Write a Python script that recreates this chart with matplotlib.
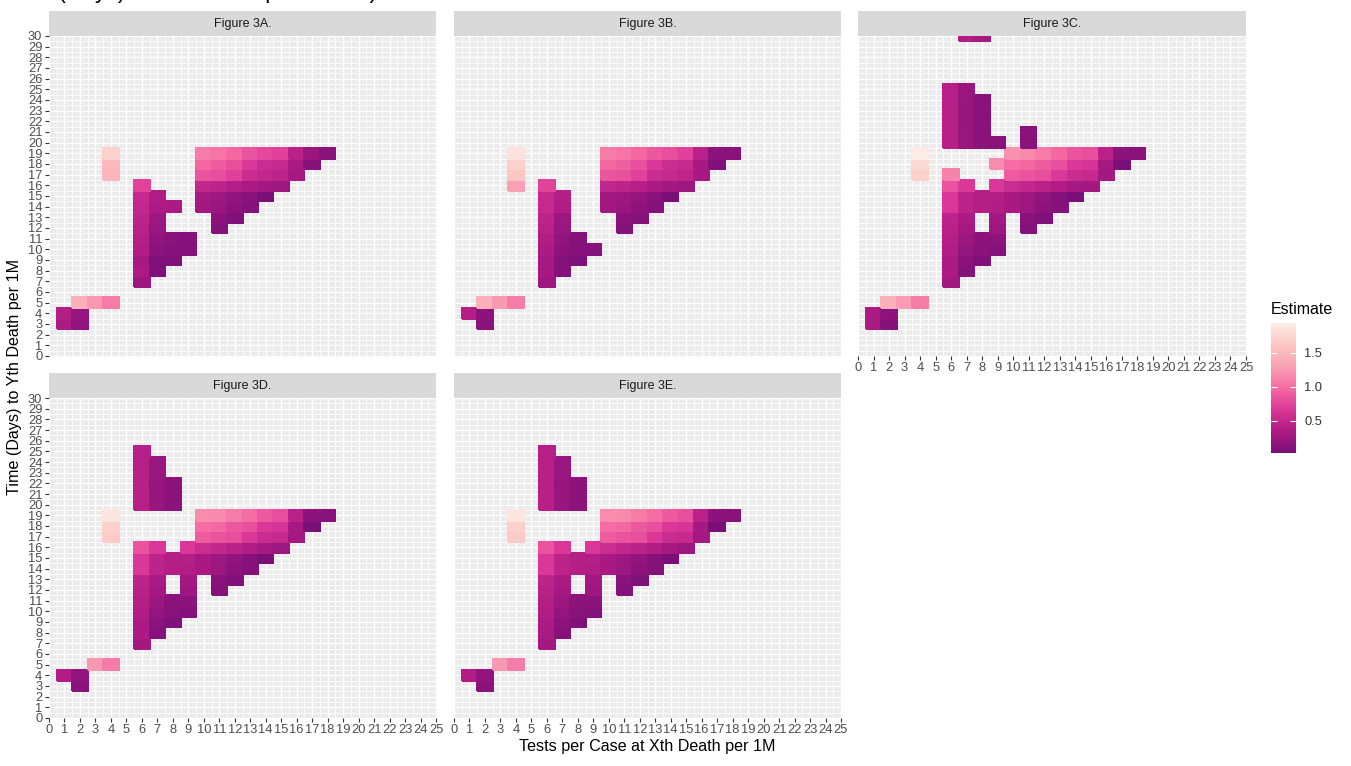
import numpy as np
import matplotlib
matplotlib.use('Agg')
import matplotlib.pyplot as plt
from matplotlib.colors import LinearSegmentedColormap, Normalize

plt.rcParams['font.family'] = ['Liberation Sans', 'DejaVu Sans']

W, H = 1351, 766

x_ticks = list(range(0, 26))
y_ticks = list(range(0, 31))

# each panel: y -> (first x, estimates from left to right, None = no tile)
fig3a = {
    19: (4, [1.71, None, None, None, None, None, 1.09, 1.04, 0.96, 0.83, 0.76, 0.72, 0.42, 0.22, 0.12]),
    18: (4, [1.51, None, None, None, None, None, 0.96, 0.89, 0.81, 0.65, 0.54, 0.50, 0.33, 0.09]),
    17: (4, [1.48, None, None, None, None, None, 0.84, 0.81, 0.71, 0.54, 0.48, 0.44, 0.30]),
    16: (6, [0.73, None, None, None, 0.48, 0.44, 0.38, 0.34, 0.28, 0.24]),
    15: (6, [0.50, 0.37, None, None, 0.30, 0.25, 0.17, 0.12, 0.03]),
    14: (6, [0.48, 0.35, 0.35, None, 0.27, 0.22, 0.14, 0.09]),
    13: (6, [0.44, 0.25, None, None, None, 0.14, 0.07]),
    12: (6, [0.42, 0.22, None, None, None, 0.09]),
    11: (6, [0.39, 0.17, 0.12, 0.09]),
    10: (6, [0.37, 0.14, 0.09, 0.09]),
    9: (6, [0.30, 0.07, 0.07]),
    8: (6, [0.35, 0.07]),
    7: (6, [0.24]),
    5: (2, [1.44, 1.25, 1.09]),
    4: (1, [0.39, 0.19]),
    3: (1, [0.35, 0.16]),
}

fig3b = {
    19: (4, [1.85, None, None, None, None, None, 1.09, 1.04, 0.96, 0.86, 0.80, 0.72, 0.42, 0.14, 0.12]),
    18: (4, [1.71, None, None, None, None, None, 0.96, 0.90, 0.81, 0.65, 0.54, 0.51, 0.32, 0.07]),
    17: (4, [1.63, None, None, None, None, None, 0.85, 0.82, 0.72, 0.54, 0.50, 0.46, 0.32]),
    16: (4, [1.30, None, 0.73, None, None, None, 0.48, 0.44, 0.40, 0.34, 0.28, 0.24]),
    15: (6, [0.50, 0.39, None, None, 0.28, 0.25, 0.19, 0.12, 0.03]),
    14: (6, [0.51, 0.37, None, None, 0.27, 0.22, 0.15, 0.09]),
    13: (6, [0.44, 0.25, None, None, None, 0.14, 0.09]),
    12: (6, [0.42, 0.22, None, None, None, 0.09]),
    11: (6, [0.37, 0.17, 0.09]),
    10: (6, [0.35, 0.14, 0.09, 0.09]),
    9: (6, [0.30, 0.09, 0.05]),
    8: (6, [0.32, 0.09]),
    7: (6, [0.25]),
    5: (2, [1.44, 1.26, 1.09]),
    4: (1, [0.39, 0.14]),
    3: (2, [0.12]),
}

fig3c = {
    30: (7, [0.37, 0.30]),
    25: (6, [0.40, 0.22]),
    24: (6, [0.40, 0.22, 0.12]),
    23: (6, [0.41, 0.21, 0.12]),
    22: (6, [0.41, 0.21, 0.12]),
    21: (6, [0.41, 0.22, 0.12, None, None, 0.12]),
    20: (6, [0.41, 0.22, 0.13, 0.12, None, 0.12]),
    19: (4, [1.94, None, None, None, None, None, 1.21, 1.17, 1.09, 0.96, 0.83, 0.80, 0.42, 0.14, 0.12]),
    18: (4, [1.78, None, None, None, None, 1.18, 1.00, 0.97, 0.89, 0.81, 0.65, 0.62, 0.30, 0.02]),
    17: (4, [1.71, None, 1.12, None, None, None, 0.89, 0.83, 0.80, 0.65, 0.54, 0.51, 0.28]),
    16: (6, [0.83, 0.65, None, 0.65, 0.54, 0.48, 0.43, 0.37, 0.30, 0.28]),
    15: (6, [0.65, 0.44, 0.39, 0.39, 0.32, 0.24, 0.17, 0.09, 0.03]),
    14: (6, [0.65, 0.44, 0.39, 0.37, 0.32, 0.24, 0.14, 0.09]),
    13: (6, [0.44, 0.34, None, 0.28, None, 0.12, 0.07]),
    12: (6, [0.42, 0.30, None, 0.25, None, 0.09]),
    11: (6, [0.39, 0.24, 0.14, 0.14]),
    10: (6, [0.37, 0.19, 0.12, 0.09]),
    9: (6, [0.34, 0.14, 0.07]),
    8: (6, [0.34, 0.09]),
    7: (6, [0.28]),
    5: (2, [1.44, 1.27, 1.09]),
    4: (1, [0.34, 0.14]),
    3: (1, [0.34, 0.09]),
}

fig3d = {
    25: (6, [0.40]),
    24: (6, [0.40, 0.22]),
    23: (6, [0.41, 0.22]),
    22: (6, [0.41, 0.21, 0.14]),
    21: (6, [0.41, 0.21, 0.14]),
    20: (6, [0.41, 0.22, 0.14]),
    19: (4, [1.88, None, None, None, None, None, 1.18, 1.17, 1.09, 1.00, 0.88, 0.81, 0.42, 0.14, 0.12]),
    18: (4, [1.71, None, None, None, None, None, 1.00, 0.97, 0.86, 0.81, 0.65, 0.62, 0.30, 0.03]),
    17: (4, [1.66, None, None, None, None, None, 0.89, 0.83, 0.80, 0.65, 0.54, 0.51, 0.28]),
    16: (6, [0.83, 0.65, None, 0.65, 0.54, 0.48, 0.43, 0.37, 0.30, 0.24]),
    15: (6, [0.65, 0.44, 0.39, 0.39, 0.32, 0.24, 0.17, 0.09, 0.03]),
    14: (6, [0.65, 0.44, 0.39, 0.37, 0.32, 0.24, 0.14, 0.09]),
    13: (6, [0.44, 0.34, None, 0.28, None, 0.12, 0.07]),
    12: (6, [0.42, 0.30, None, 0.25, None, 0.09]),
    11: (6, [0.39, 0.24, 0.14, 0.14]),
    10: (6, [0.37, 0.19, 0.12, 0.09]),
    9: (6, [0.34, 0.14, 0.07]),
    8: (6, [0.34, 0.09]),
    7: (6, [0.28]),
    5: (3, [1.25, 1.09]),
    4: (1, [0.37, 0.17]),
    3: (2, [0.12]),
}

fig3e = {
    25: (6, [0.40]),
    24: (6, [0.40, 0.22]),
    23: (6, [0.41, 0.22]),
    22: (6, [0.41, 0.21, 0.14]),
    21: (6, [0.41, 0.21, 0.14]),
    20: (6, [0.41, 0.22, 0.14]),
    19: (4, [1.88, None, None, None, None, None, 1.18, 1.17, 1.09, 1.00, 0.88, 0.81, 0.42, 0.14, 0.12]),
    18: (4, [1.71, None, None, None, None, None, 1.00, 0.97, 0.86, 0.81, 0.65, 0.62, 0.30, 0.03]),
    17: (4, [1.66, None, None, None, None, None, 0.89, 0.83, 0.80, 0.65, 0.54, 0.51, 0.28]),
    16: (6, [0.83, 0.65, None, 0.65, 0.54, 0.48, 0.43, 0.37, 0.30, 0.24]),
    15: (6, [0.65, 0.44, 0.39, 0.39, 0.32, 0.24, 0.17, 0.09, 0.03]),
    14: (6, [0.65, 0.44, 0.39, 0.37, 0.32, 0.24, 0.14, 0.09]),
    13: (6, [0.44, 0.34, None, 0.28, None, 0.12, 0.07]),
    12: (6, [0.42, 0.30, None, 0.25, None, 0.09]),
    11: (6, [0.39, 0.24, 0.14, 0.14]),
    10: (6, [0.37, 0.19, 0.12, 0.09]),
    9: (6, [0.34, 0.14, 0.07]),
    8: (6, [0.34, 0.09]),
    7: (6, [0.28]),
    5: (3, [1.25, 1.09]),
    4: (1, [0.37, 0.17]),
    3: (2, [0.12]),
}

panel_titles = ['Figure 3A.', 'Figure 3B.', 'Figure 3C.', 'Figure 3D.', 'Figure 3E.']
panel_rows = [fig3a, fig3b, fig3c, fig3d, fig3e]

title = 'Time (Days) to Yth Death per Cases)'
x_label = 'Tests per Case at Xth Death per 1M'
y_label = 'Time (Days) to Yth Death per 1M'
legend_title = 'Estimate'
legend_ticks = [0.5, 1.0, 1.5]

rdpu = ['#7a0f78', '#ad1a83', '#dc3898', '#f56aa2', '#f9a0b4', '#fcc6c2', '#fdebe5']
cmap = LinearSegmentedColormap.from_list('rdpu_r', rdpu)


def to_grid(rows):
    z = np.full((len(y_ticks), len(x_ticks)), np.nan)
    for y, (x0, vals) in rows.items():
        for i, v in enumerate(vals):
            if v is not None:
                z[y, x0 + i] = v
    return np.ma.masked_invalid(z)


def px_axes(fig, l, t, r, b):
    return fig.add_axes([l / W, 1 - b / H, (r - l) / W, (b - t) / H])


grids = [to_grid(r) for r in panel_rows]
vmin = min(g.min() for g in grids)
vmax = max(g.max() for g in grids)
norm = Normalize(vmin=vmin, vmax=vmax)

fig = plt.figure(figsize=(W / 100, H / 100), dpi=100)

# panel boxes in pixels: left, top, right, bottom; which axes get labels
boxes = [
    (49, 36, 436, 356, True, False),
    (454, 36, 841, 356, False, False),
    (858, 36, 1246, 356, False, True),
    (49, 398, 436, 718, True, True),
    (454, 398, 841, 718, False, True),
]

xe = np.arange(-0.5, len(x_ticks) + 0.5)
ye = np.arange(-0.5, len(y_ticks) + 0.5)

mesh = None
for (l, t, r, b, show_y, show_x), g, name in zip(boxes, grids, panel_titles):
    ax = px_axes(fig, l, t, r, b)
    ax.set_facecolor('#EBEBEB')
    mesh = ax.pcolormesh(xe, ye, g, cmap=cmap, norm=norm, shading='flat',
                         edgecolors='face', linewidth=0.2, zorder=2)
    ax.set_xlim(0, 25)
    ax.set_ylim(0, 30)
    ax.set_xticks(x_ticks)
    ax.set_yticks(y_ticks)
    ax.set_xticks(np.arange(0.5, 25, 1), minor=True)
    ax.set_yticks(np.arange(0.5, 30, 1), minor=True)
    ax.set_axisbelow(True)
    ax.grid(which='major', color='white', linewidth=1.0)
    ax.grid(which='minor', color='white', linewidth=0.6)
    for s in ax.spines.values():
        s.set_visible(False)
    ax.tick_params(which='minor', length=0)
    ax.tick_params(which='major', length=2.8, width=0.8, color='#333333',
                   labelsize=9.3, labelcolor='#4D4D4D')
    ax.tick_params(axis='y', pad=2)
    ax.tick_params(axis='x', pad=1.5)
    if not show_y:
        ax.tick_params(axis='y', left=False, labelleft=False)
    if not show_x:
        ax.tick_params(axis='x', bottom=False, labelbottom=False)

    sax = px_axes(fig, l, t - 25, r, t)
    sax.set_facecolor('#D9D9D9')
    sax.set_xticks([])
    sax.set_yticks([])
    for s in sax.spines.values():
        s.set_visible(False)
    sax.text(0.5, 0.5, name, ha='center', va='center', fontsize=9,
             color='#1A1A1A', transform=sax.transAxes)

fig.text(647 / W, 1 - 747 / H, x_label, ha='center', va='center', fontsize=11.6, color='black')
fig.text(15 / W, 1 - 377 / H, y_label, ha='center', va='center', rotation=90, fontsize=11.6, color='black')
fig.text(2 / W, 1 + 2 / H, title, ha='left', va='baseline', fontsize=16.5, color='black')

# colour bar
cax = px_axes(fig, 1271, 323, 1296, 453)
cb = fig.colorbar(mesh, cax=cax, ticks=legend_ticks)
cb.outline.set_visible(False)
cax.set_yticklabels(['0.5', '1.0', '1.5'])
cax.tick_params(direction='in', length=4.5, width=0.8, color='white', left=True, right=True,
                labelsize=9.3, labelcolor='#333333', pad=6)
fig.text(1271 / W, 1 - 310 / H, legend_title, ha='left', va='center', fontsize=11.5)

fig.savefig('out.png', dpi=100)
